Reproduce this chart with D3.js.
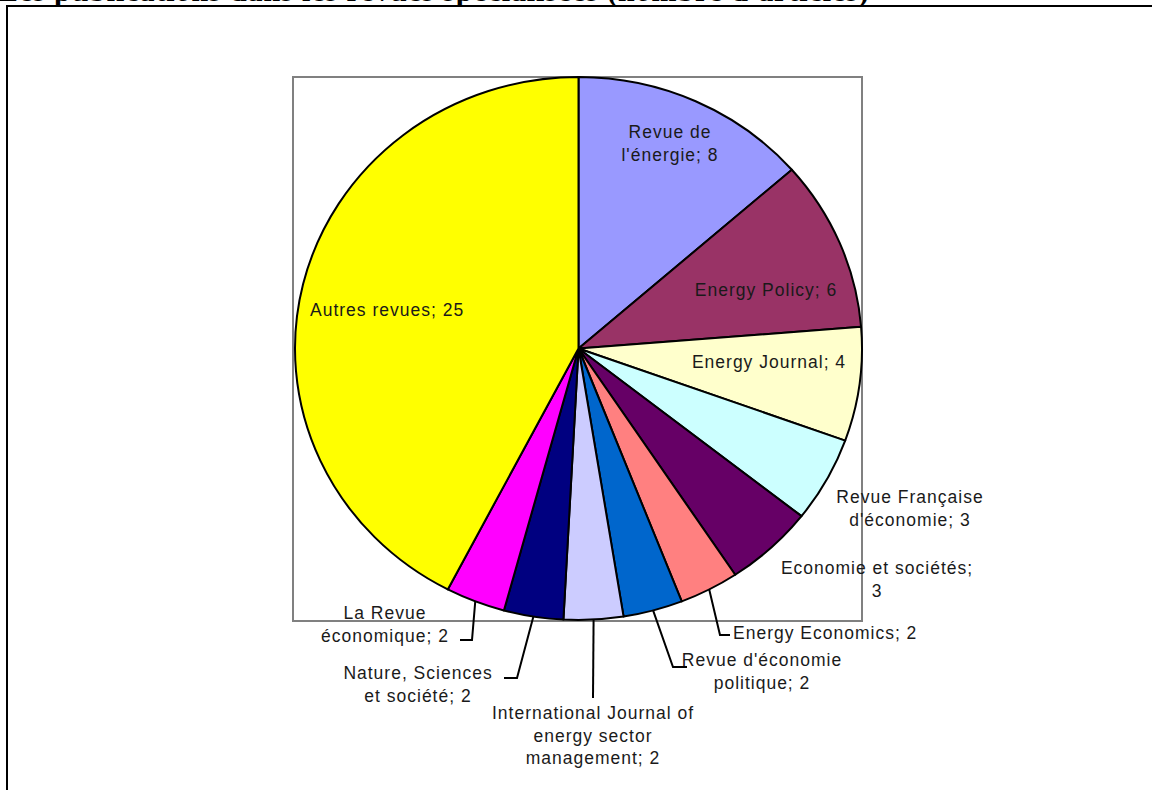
<!DOCTYPE html>
<html>
<head>
<meta charset="utf-8">
<script src="https://cdn.jsdelivr.net/npm/d3@7"></script>
<style>
  body { margin: 0; background: #fff; overflow: hidden; }
  .t_title { font-family: "Liberation Serif", "Times New Roman", serif; font-weight: bold; font-size: 30px; letter-spacing: 0.9px; fill: #000; }
  .t_label { font-family: "Liberation Sans", Arial, sans-serif; font-size: 17.5px; letter-spacing: 1px; fill: #1a1a1a; }
</style>
</head>
<body>
<svg width="1152" height="790"></svg>
<script>
/* ----------------------------------------------------------
data
---------------------------------------------------------- */

var revues = [
  "Revue de l'énergie", "Energy Policy", "Energy Journal", "Revue Française d'économie",
  "Economie et sociétés", "Energy Economics", "Revue d'économie politique",
  "International Journal of energy sector management", "Nature, Sciences et société",
  "La Revue économique", "Autres revues"
];
var articles = [8, 6, 4, 3, 3, 2, 2, 2, 2, 2, 25];
var colors = [
  "#9999ff", "#993366", "#ffffcc", "#ccffff", "#660066", "#ff8080",
  "#0066cc", "#ccccff", "#000080", "#ff00ff", "#ffff00"
];
// texte des etiquettes, coupe en lignes comme dans l'original
var labelLines = [
  ["Revue de", "l'énergie; 8"],
  ["Energy Policy; 6"],
  ["Energy Journal; 4"],
  ["Revue Française", "d'économie; 3"],
  ["Economie et sociétés;", "3"],
  ["Energy Economics; 2"],
  ["Revue d'économie", "politique; 2"],
  ["International Journal of", "energy sector", "management; 2"],
  ["Nature, Sciences", "et société; 2"],
  ["La Revue", "économique; 2"],
  ["Autres revues; 25"]
];
var title = "Les publications dans les revues spécialisées (nombre d'articles)";

/* ----------------------------------------------------------
layout
---------------------------------------------------------- */

var cx = 578.5, cy = 348.5, rx = 283.5, ry = 271.5;
var lineH = 22.5;

// position des etiquettes (centre de la 1re ligne) et coudes des traits de rappel
var labelPos = [
  { x: 670, y: 132 },
  { x: 766, y: 290 },
  { x: 769, y: 362 },
  { x: 910, y: 497 },
  { x: 877, y: 568 },
  { x: 733, y: 633, anchor: "start", elbow: [720, 635], tail: 730 },
  { x: 762, y: 660, elbow: [673, 667], tail: 687 },
  { x: 593, y: 713, elbow: [593, 698] },
  { x: 418, y: 673, elbow: [517, 678], tail: 504 },
  { x: 385, y: 613, elbow: [472, 640], tail: 460 },
  { x: 310, y: 310, anchor: "start" }
];

/* ----------------------------------------------------------
draw
---------------------------------------------------------- */

var svg = d3.select("svg");

svg.append("text")
  .attr("class", "t_title")
  .attr("x", -2).attr("y", 1)
  .text(title);

// cadre de la page
svg.append("rect")
  .attr("x", 7).attr("y", 6)
  .attr("width", 1300).attr("height", 900)
  .attr("fill", "none").attr("stroke", "#000").attr("stroke-width", 2);

// zone de trace
svg.append("rect")
  .attr("x", cx - rx - 2).attr("y", cy - ry)
  .attr("width", rx * 2 + 2).attr("height", ry * 2 + 1)
  .attr("fill", "#fff").attr("stroke", "#808080").attr("stroke-width", 2);

var pie = d3.pie().sort(null).value(d => d);
var arcs = pie(articles);
var arc = d3.arc().innerRadius(0).outerRadius(ry);

var gPie = svg.append("g")
  .attr("transform", "translate(" + cx + "," + cy + ") scale(" + (rx / ry) + ",1)");

gPie.selectAll(".slice")
  .data(arcs).enter().append("path")
  .attr("class", "slice")
  .attr("d", arc)
  .attr("fill", (d, i) => colors[i])
  .attr("stroke", "#000")
  .attr("stroke-width", 2)
  .attr("stroke-linejoin", "round")
  .attr("vector-effect", "non-scaling-stroke");

function edgePoint(d) {
  var a = (d.startAngle + d.endAngle) / 2;
  return [cx + rx * Math.sin(a), cy - ry * Math.cos(a)];
}

// traits de rappel
var line = d3.line();
arcs.forEach(function(d, i) {
  var p = labelPos[i];
  if (!p.elbow) return;
  var pts = [edgePoint(d), p.elbow];
  if (p.tail != null) pts.push([p.tail, p.elbow[1]]);
  svg.append("path")
    .attr("d", line(pts))
    .attr("fill", "none")
    .attr("stroke", "#000")
    .attr("stroke-width", 2);
});

// etiquettes
var labels = svg.selectAll(".t_label")
  .data(arcs).enter().append("text")
  .attr("class", "t_label")
  .attr("text-anchor", (d, i) => labelPos[i].anchor || "middle")
  .attr("transform", (d, i) => "translate(" + labelPos[i].x + "," + labelPos[i].y + ")");

labels.each(function(d, i) {
  var t = d3.select(this);
  labelLines[i].forEach(function(s, j) {
    t.append("tspan")
      .attr("x", 0)
      .attr("y", j * lineH)
      .attr("dy", "0.35em")
      .text(s);
  });
});
</script>
</body>
</html>
